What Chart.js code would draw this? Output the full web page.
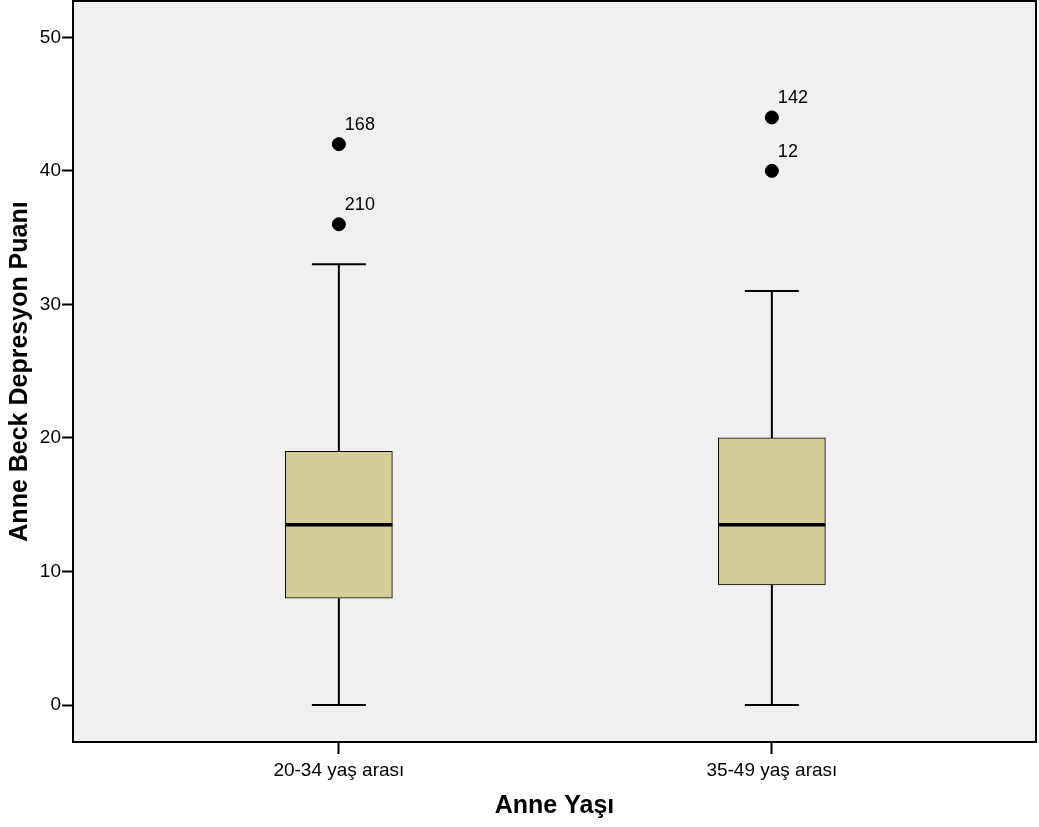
<!DOCTYPE html>
<html>
<head>
<meta charset="utf-8">
<script src="https://cdn.jsdelivr.net/npm/chart.js@4"></script>
<style>
  body { margin: 0; background: #fff; }
  canvas { display: block; }
</style>
</head>
<body>
<canvas id="boxChart" width="1039" height="827"></canvas>
<script>
// Anne Beck Depresyon Puanı - anne yaşına göre
const categories = ['20-34 yaş arası', '35-49 yaş arası'];
const whiskerLow = [0, 0];
const q1 = [8, 9];
const median = [13.5, 13.5];
const q3 = [19, 20];
const whiskerHigh = [33, 31];
const outlierValues = [[36, 42], [40, 44]];
const outlierIds = [['210', '168'], ['12', '142']];
const yTicks = [0, 10, 20, 30, 40, 50];

const FONT = 'Arial, "Liberation Sans", sans-serif';

const boxData = categories.map((c, i) => ({ x: i + 1, y: [q1[i], q3[i]] }));
const outlierData = [];
outlierValues.forEach((vals, i) => {
    vals.forEach((v, j) => outlierData.push({ x: i + 1, y: v, id: outlierIds[i][j] }));
});

// background + frame of the plot area
const frame = {
    id: 'frame',
    beforeDraw(chart) {
        const a = chart.chartArea, ctx = chart.ctx;
        ctx.save();
        ctx.fillStyle = '#f0f0f0';
        ctx.fillRect(a.left, a.top, a.right - a.left, a.bottom - a.top);
        ctx.restore();
    },
    afterDraw(chart) {
        const a = chart.chartArea, ctx = chart.ctx;
        ctx.save();
        ctx.strokeStyle = '#000';
        ctx.lineWidth = 2;
        ctx.strokeRect(a.left, a.top, a.right - a.left, a.bottom - a.top);
        ctx.restore();
    }
};

// whiskers, caps and medians
const whiskers = {
    id: 'whiskers',
    afterDatasetsDraw(chart) {
        const ctx = chart.ctx, xs = chart.scales.x, ys = chart.scales.y;
        const boxW = 107, capW = 54;
        ctx.save();
        ctx.strokeStyle = '#000';
        categories.forEach((c, i) => {
            const x = xs.getPixelForValue(i + 1);
            const yLo = ys.getPixelForValue(whiskerLow[i]);
            const yQ1 = ys.getPixelForValue(q1[i]);
            const yQ3 = ys.getPixelForValue(q3[i]);
            const yHi = ys.getPixelForValue(whiskerHigh[i]);
            const yMed = ys.getPixelForValue(median[i]);
            ctx.lineWidth = 2;
            ctx.beginPath();
            ctx.moveTo(x, yQ1); ctx.lineTo(x, yLo);
            ctx.moveTo(x, yQ3); ctx.lineTo(x, yHi);
            ctx.moveTo(x - capW / 2, yLo); ctx.lineTo(x + capW / 2, yLo);
            ctx.moveTo(x - capW / 2, yHi); ctx.lineTo(x + capW / 2, yHi);
            ctx.stroke();
            ctx.lineWidth = 3.5;
            ctx.beginPath();
            ctx.moveTo(x - boxW / 2, yMed); ctx.lineTo(x + boxW / 2, yMed);
            ctx.stroke();
        });
        // outlier case numbers
        ctx.fillStyle = '#000';
        ctx.font = '18px ' + FONT;
        ctx.textAlign = 'left';
        ctx.textBaseline = 'middle';
        outlierData.forEach(p => {
            ctx.fillText(p.id, xs.getPixelForValue(p.x) + 6, ys.getPixelForValue(p.y) - 19);
        });
        ctx.restore();
    }
};

const ctx = document.getElementById('boxChart').getContext('2d');
const boxChart = new Chart(ctx, {
    type: 'bar',
    data: {
        datasets: [{
            label: 'Kutu',
            data: boxData,
            backgroundColor: '#d3ce98',
            borderColor: '#000',
            borderWidth: 1,
            borderSkipped: false,
            barThickness: 107
        }, {
            type: 'scatter',
            label: 'Aykırı',
            data: outlierData,
            backgroundColor: '#000',
            borderColor: '#000',
            pointRadius: 6.5,
            pointHoverRadius: 6.5
        }]
    },
    options: {
        responsive: false,
        animation: false,
        layout: { autoPadding: false, padding: { top: 1, right: 3, left: 0, bottom: 0 } },
        plugins: {
            legend: { display: false },
            tooltip: { enabled: false }
        },
        scales: {
            x: {
                type: 'linear',
                offset: false,
                min: 0.386,
                max: 2.61,
                afterBuildTicks: s => { s.ticks = categories.map((c, i) => ({ value: i + 1 })); },
                afterFit: s => { s.height = 85; s.paddingLeft = 0; s.paddingRight = 0; },
                ticks: {
                    color: '#000',
                    font: { family: FONT, size: 19 },
                    padding: 5,
                    autoSkip: false,
                    maxRotation: 0,
                    callback: v => categories[v - 1]
                },
                grid: { offset: false, drawOnChartArea: false, drawTicks: true, tickLength: 12, tickWidth: 2, color: '#000' },
                border: { display: false },
                title: {
                    display: true,
                    text: 'Anne Yaşı',
                    color: '#000',
                    font: { family: FONT, size: 25, weight: 'bold' },
                    padding: { top: 0, bottom: 6 }
                }
            },
            y: {
                type: 'linear',
                min: -2.77,
                max: 52.72,
                afterBuildTicks: s => { s.ticks = yTicks.map(v => ({ value: v })); },
                afterFit: s => { s.width = 73; s.paddingTop = 0; s.paddingBottom = 0; },
                ticks: {
                    color: '#000',
                    font: { family: FONT, size: 19 },
                    padding: 1
                },
                grid: { drawOnChartArea: false, drawTicks: true, tickLength: 11, tickWidth: 2, color: '#000' },
                border: { display: false },
                title: {
                    display: true,
                    text: 'Anne Beck Depresyon Puanı',
                    color: '#000',
                    font: { family: FONT, size: 25, weight: 'bold' },
                    padding: { top: 5, bottom: 0 }
                }
            }
        }
    },
    plugins: [frame, whiskers]
});
</script>
</body>
</html>
